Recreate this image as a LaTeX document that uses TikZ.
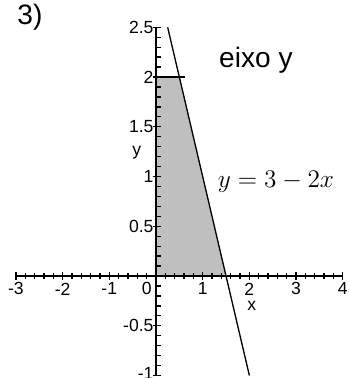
\documentclass[tikz,border=0pt]{standalone}
\usepackage{fontspec}
\setmainfont{Liberation Sans}
\begin{document}
\begin{tikzpicture}[x=0.934cm,y=1.99cm,line width=0.75pt,every node/.style={font=\fontsize{10}{11}\selectfont,inner sep=0pt}]
  \useasboundingbox (-3.340,-1.025) rectangle (4.154,2.774);
  \fill[gray!50] (0,0) -- (1.5,0) -- (0.5,2) -- (0,2) -- cycle;
  % axes
  \draw (-3,0) -- (4,0);
  \draw (0,-1) -- (0,2.5);
  \foreach \i in {-15,...,20} \draw (\i/5,-0.03) -- (\i/5,0.03);
  \foreach \i in {-3,...,4} \draw (\i,-0.04) -- (\i,0.04);
  \foreach \j in {-10,...,25} \draw (0,\j/10) -- (0.11,\j/10);
  \foreach \j in {-2,...,5} \draw (-0.06,\j/2) -- (0.11,\j/2);
  \foreach \i in {-3,-2,-1,1,2,3,4} \node (lx\i) at (\i,-0.13) {\i};
  \node (lx0) at (-0.2,-0.13) {0};
  \foreach \v/\t in {2.5/2.5,2/2,1.5/1.5,1/1,0.5/0.5,-0.5/-0.5,-0.975/-1} \node[anchor=east] (ly\t) at (-0.04,\v) {\t};
  \node (xlab) at (2.05,-0.30) {x};
  \node (ylab) at (-0.41,1.24) {y};
  % region and line
  \draw (-0.03,2) -- (0.62,2);
  \draw (0.25,2.5) -- (2,-1);
  \node[font=\fontsize{16}{18}\selectfont] (num) at (-2.70,2.60) {3)};
  \node[font=\fontsize{16}{18}\selectfont] (eixo) at (2.14,2.17) {eixo y};
  \node[font=\fontsize{15.5}{17}\selectfont] (eq) at (2.57,0.945) {$y = 3 - 2x$};
\end{tikzpicture}
\end{document}
